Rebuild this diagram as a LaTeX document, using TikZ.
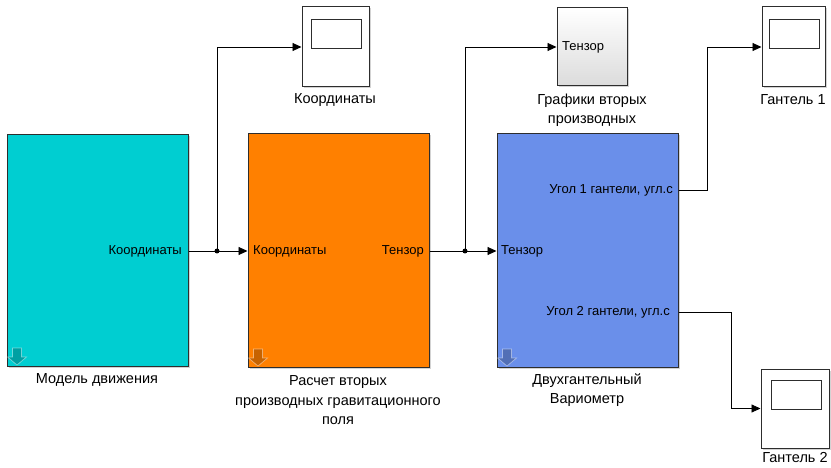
\documentclass[tikz,border=0pt]{standalone}
\usepackage{fontspec}
\setmainfont{Liberation Sans}
\usetikzlibrary{arrows.meta,shadows}
\definecolor{cyanblk}{RGB}{0,206,209}
\definecolor{orangeblk}{RGB}{255,128,0}
\definecolor{blueblk}{RGB}{106,143,234}
\definecolor{edge}{RGB}{45,45,45}
\begin{document}
\begin{tikzpicture}[x=1pt,y=-1pt,
  blk/.style={draw=edge, line width=1pt, inner sep=0pt,
    drop shadow={shadow xshift=1.5pt, shadow yshift=-1.5pt, opacity=0.35}},
  scopebox/.style={blk, fill=white, minimum width=67pt, minimum height=80pt},
  screen/.style={draw=edge, line width=0.8pt, fill=white, inner sep=0pt, minimum width=50pt, minimum height=29pt},
  plabel/.style={font=\fontsize{13}{14}\selectfont, inner sep=0pt},
  blabel/.style={font=\fontsize{14.5}{19.5}\selectfont, align=center, inner sep=0pt},
  wire/.style={line width=0.9pt, draw=black},
  arr/.style={wire, -{Triangle[length=9pt,width=8pt]}},
  dot/.style={circle, fill=black, inner sep=0pt, minimum size=5pt},
  icon/.style={fill=black, fill opacity=0.22, draw=white, draw opacity=0.45, line width=0.7pt}
]
\useasboundingbox (0,0) rectangle (831,468);

% main blocks
\node[blk, fill=cyanblk, minimum width=181pt, minimum height=232pt] (model) at (97.5,250.5) {};
\node[blk, fill=orangeblk, minimum width=181pt, minimum height=234pt] (calc) at (338.5,250.5) {};
\node[blk, fill=blueblk, minimum width=181pt, minimum height=234pt] (vario) at (587.5,250.5) {};

% down-arrow icons
\foreach \b in {model,calc,vario}{
  \path[icon] ([shift={(6,-19)}]\b.south west) -- ++(9,0) -- ++(0,9) -- ++(5,0)
     -- ++(-9.5,8) -- ++(-9.5,-8) -- ++(5,0) -- cycle;
}

% scopes
\node[scopebox] (sc1) at (335.5,47) {};
\node[screen] (sc1s) at (336,33.5) {};
\node[blk, top color=white, bottom color=black!14, minimum width=70pt, minimum height=78pt] (graph) at (592,47) {};
\node[scopebox, minimum width=63pt] (g1) at (793.5,47) {};
\node[screen] (g1s) at (794,33.5) {};
\node[scopebox, minimum width=68pt, minimum height=79pt] (g2) at (795,408.5) {};
\node[screen] (g2s) at (796,395) {};

% port labels
\node[plabel, anchor=east] (mp) at (182,251) {Координаты};
\node[plabel, anchor=west] (cin) at (253,251) {Координаты};
\node[plabel, anchor=east] (cout) at (424,251) {Тензор};
\node[plabel, anchor=west] (vin) at (501,251) {Тензор};
\node[plabel, anchor=east] (u1) at (673,190) {Угол 1 гантели, угл.с};
\node[plabel, anchor=east] (u2) at (670,312) {Угол 2 гантели, угл.с};
\node[plabel, anchor=west] (gin) at (562,47) {Тензор};

% block labels
\node[blabel] (lmodel) at (97,380) {Модель движения};
\node[blabel, anchor=north] (lcalc) at (338,375.5) {Расчет вторых\\производных гравитационного\\поля};
\node[blabel, anchor=north] (lvario) at (587,373.5) {Двухгантельный\\Вариометр};
\node[blabel] (lsc1) at (335,100) {Координаты};
\node[blabel, anchor=north] (lgraph) at (592,93.5) {Графики вторых\\производных};
\node[blabel] (lg1) at (793,100) {Гантель 1};
\node[blabel] (lg2) at (795,458) {Гантель 2};

% junctions
\node[dot] (j1) at (217,251) {};
\node[dot] (j2) at (465,251) {};

% wires
\draw[arr] (model.east |- mp) -- (calc.west |- mp);
\draw[arr] (j1.center) |- (sc1.west);
\draw[arr] (calc.east |- cout) -- (vario.west |- cout);
\draw[arr] (j2.center) |- (graph.west);
\draw[arr] (vario.east |- u1) -- ++(29,0) |- (g1.west);
\draw[arr] (vario.east |- u2) -- ++(53,0) |- (g2.west);
\end{tikzpicture}
\end{document}
